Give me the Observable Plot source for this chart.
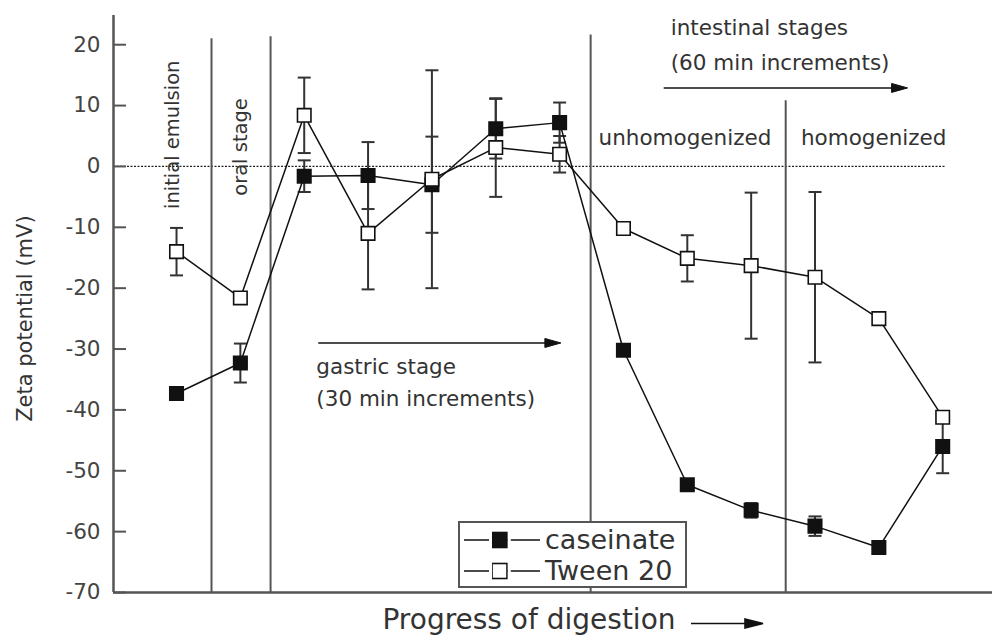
<!DOCTYPE html>
<html>
<head>
<meta charset="utf-8">
<script src="https://cdn.jsdelivr.net/npm/d3@7"></script>
<script src="https://cdn.jsdelivr.net/npm/@observablehq/plot@0.6"></script>
<style>
  html, body { margin: 0; padding: 0; background: #fff; }
  #wrap { position: relative; width: 992px; height: 637px; font-family: "DejaVu Sans", sans-serif; }
  #legend { position: absolute; left: 458px; top: 521px; width: 225px; height: 63px;
            border: 2px solid #555; background: #fff; }
  .row { position: absolute; left: 4px; height: 31px; display: flex; align-items: center; }
  .row span { font-size: 27px; color: #333; margin-left: 5px; }
</style>
</head>
<body>
<div id="wrap"></div>
<script>
// ---- data ----
const steps = [1, 2, 3, 4, 5, 6, 7, 8, 9, 10, 11, 12, 13];
const caseinate    = [-37.3, -32.3, -1.6, -1.5, -3.0, 6.2, 7.2, -30.2, -52.3, -56.5, -59.1, -62.6, -46.0];
const caseinateErr = [0, 3.2, 2.6, 5.5, 7.9, 4.9, 3.3, 0, 0.8, 1.2, 1.6, 0.5, 4.4];
const tween        = [-14.0, -21.6, 8.4, -11.0, -2.1, 3.1, 2.0, -10.2, -15.1, -16.3, -18.2, -25.0, -41.2];
const tweenErr     = [3.9, 0.8, 6.2, 9.2, 17.9, 8.1, 3.0, 0.9, 3.8, 12.0, 14.0, 0.8, 0.8];
const yTicks = [20, 10, 0, -10, -20, -30, -40, -50, -60, -70];
const stageBoundaries = [1.548, 2.473, 7.486, 10.541];
const stageBoundaryTops = [21.0, 21.3, 21.6, 10.8];

const series = [
  {name: "caseinate", values: caseinate, err: caseinateErr, fill: "#111"},
  {name: "Tween 20", values: tween, err: tweenErr, fill: "#fff"}
];
const rows = series.flatMap(s => steps.map((x, i) => ({series: s.name, x, y: s.values[i], e: s.err[i], fill: s.fill})));
const errRows = rows.filter(d => d.e > 0);
const boundaries = stageBoundaries.map((x, i) => ({x, top: stageBoundaryTops[i]}));

// custom symbols
const capSymbol = {draw(ctx) { ctx.moveTo(-6.5, 0); ctx.lineTo(6.5, 0); }};
const headSymbol = {draw(ctx) { ctx.moveTo(0, 0); ctx.lineTo(-16, -4.5); ctx.lineTo(-16, 4.5); ctx.closePath(); }};
const bottomArrow = {draw(ctx) {
  ctx.moveTo(-36, 0); ctx.lineTo(20, 0);
  ctx.moveTo(36, 0); ctx.lineTo(18, -4.5); ctx.lineTo(18, 4.5); ctx.closePath();
}};

// annotations
const vertLabels = [
  {x: 0.937, y: 5.2, text: "initial emulsion"},
  {x: 2.0, y: 3.2, text: "oral stage"}
];
const horizLabels = [
  {x: 3.19, y: -32.9, text: "gastric stage"},
  {x: 3.19, y: -38.3, text: "(30 min increments)"},
  {x: 8.74, y: 22.8, text: "intestinal stages"},
  {x: 8.74, y: 16.9, text: "(60 min increments)"},
  {x: 7.61, y: 4.7, text: "unhomogenized"},
  {x: 10.78, y: 4.7, text: "homogenized"}
];
const arrows = [
  {x1: 3.22, x2: 7.02, y: -29.0},
  {x1: 8.63, x2: 12.45, y: 12.9}
];

const chart = Plot.plot({
  width: 992,
  height: 637,
  marginLeft: 113,
  marginRight: 0,
  marginTop: 15,
  marginBottom: 45,
  style: {fontFamily: "DejaVu Sans, sans-serif", background: "#fff", color: "#333"},
  x: {domain: [0.013, 13.78], axis: null},
  y: {domain: [-70, 24.8], axis: null},
  marks: [
    // zero dashed line
    Plot.ruleY([0], {x1: 0.013, x2: 13.05, stroke: "#222", strokeWidth: 1.3, strokeDasharray: "2,1.5"}),
    // stage boundaries
    Plot.ruleX(boundaries, {x: "x", y1: -70, y2: "top", stroke: "#555", strokeWidth: 2}),
    // y axis ticks + labels
    Plot.tickY(yTicks, {y: d => d, stroke: "#555", strokeWidth: 2, insetRight: 866}),
    Plot.axisY(yTicks, {tickSize: 0, tickPadding: 13, fontSize: 21.5, fill: "#444", tickFormat: d => String(d), label: null}),
    // axis lines
    Plot.ruleX([0.013], {stroke: "#555", strokeWidth: 2.5}),
    Plot.ruleY([-70], {stroke: "#555", strokeWidth: 2.5}),
    // error bars
    Plot.ruleX(errRows, {x: "x", y1: d => d.y - d.e, y2: d => d.y + d.e, stroke: "#333", strokeWidth: 2}),
    Plot.dot(errRows, {x: "x", y: d => d.y - d.e, symbol: capSymbol, stroke: "#333", strokeWidth: 2, fill: "none"}),
    Plot.dot(errRows, {x: "x", y: d => d.y + d.e, symbol: capSymbol, stroke: "#333", strokeWidth: 2, fill: "none"}),
    // lines
    Plot.line(rows, {x: "x", y: "y", z: "series", stroke: "#111", strokeWidth: 1.5}),
    // markers
    Plot.dot(rows, {x: "x", y: "y", symbol: "square", r: 7.6, fill: d => d.fill, stroke: "#111", strokeWidth: 1.6}),
    // annotation text
    Plot.text(vertLabels, {x: "x", y: "y", text: "text", rotate: -90, fontSize: 19.5, fill: "#333"}),
    Plot.text(horizLabels, {x: "x", y: "y", text: "text", textAnchor: "start", fontSize: 21.5, fill: "#333"}),
    // annotation arrows
    Plot.link(arrows, {x1: "x1", x2: d => d.x2 - 0.15, y1: "y", y2: "y", stroke: "#111", strokeWidth: 1.6}),
    Plot.dot(arrows, {x: "x2", y: "y", symbol: headSymbol, fill: "#111", stroke: "#111", strokeWidth: 1}),
    // axis titles
    Plot.text(["Zeta potential (mV)"], {x: () => 0.013, y: () => -25.0, rotate: -90, dx: -88, fontSize: 21, fill: "#333"}),
    Plot.text(["Progress of digestion"], {frameAnchor: "bottom", dx: -24, dy: 36, fontSize: 28, fill: "#333"}),
    Plot.dot([0], {frameAnchor: "bottom", dx: 174, dy: 31, symbol: bottomArrow, fill: "#111", stroke: "#111", strokeWidth: 1.6})
  ]
});

const wrap = document.getElementById("wrap");
wrap.appendChild(chart);

// legend
const legend = document.createElement("div");
legend.id = "legend";
series.forEach((s, i) => {
  const row = document.createElement("div");
  row.className = "row";
  row.style.top = (1 + i * 31) + "px";
  row.innerHTML = `<svg width="76" height="20" viewBox="0 0 76 20">
      <line x1="0" x2="76" y1="10" y2="10" stroke="#111" stroke-width="1.6"/>
      <rect x="28" y="2.5" width="15" height="15" fill="${s.fill === '#fff' ? '#fff' : '#111'}" stroke="#111" stroke-width="1.6"/>
      <rect x="25" y="0" width="3" height="20" fill="#fff"/>
      <rect x="43.8" y="0" width="3" height="20" fill="#fff"/>
    </svg><span>${s.name}</span>`;
  legend.appendChild(row);
});
wrap.appendChild(legend);
</script>
</body>
</html>
